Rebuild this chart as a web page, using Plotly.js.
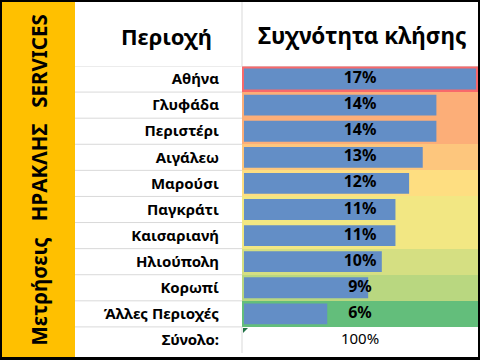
<!DOCTYPE html>
<html><head><meta charset="utf-8">
<script src="https://cdn.plot.ly/plotly-3.0.1.min.js"></script>
<style>
html,body{margin:0;padding:0;background:#000;width:480px;height:360px;overflow:hidden}
#chart{position:absolute;left:2px;top:2px;width:476px;height:355px;background:#fff}
</style>
</head><body><div id="chart"></div>
<script>
const regions = ['Αθήνα','Γλυφάδα','Περιστέρι','Αιγάλεω','Μαρούσι','Παγκράτι','Καισαριανή','Ηλιούπολη','Κορωπί','Άλλες Περιοχές'];
const callShare = [17.0, 14.1, 14.1, 13.1, 12.1, 11.1, 11.1, 10.1, 9.1, 6.1];
const totalLabel = 'Σύνολο:';
const totalValue = 100;
const headerRegion = 'Περιοχή';
const headerShare = 'Συχνότητα κλήσης';
const sideTitle = 'Μετρήσεις\u00A0\u00A0\u00A0ΗΡΑΚΛΗΣ\u00A0\u00A0\u00A0SERVICES';

const cats = regions.concat([totalLabel]);
const FONT = 'Noto Sans, sans-serif';
const W = 476, H = 355;
const px = v => v / W;
const py = v => 1 - v / H;
const plotLeft = px(240);
const grid = '#D9D9D9';

const heat = {
  type: 'heatmap', x: ['c'], y: cats,
  z: cats.map((c, i) => [i < callShare.length ? callShare[i] : null]),
  colorscale: [[0, '#63BE7B'], [0.5, '#FFEB84'], [1, '#F8696B']],
  showscale: false, hoverinfo: 'skip', xaxis: 'x', yaxis: 'y'
};
const bars = {
  type: 'bar', orientation: 'h', y: regions, x: callShare, width: 0.8,
  marker: {color: '#638EC6', line: {width: 0}}, xaxis: 'x2', yaxis: 'y', hoverinfo: 'skip'
};
const labels = {
  type: 'scatter', mode: 'text', y: regions, x: regions.map(() => 0),
  text: callShare.map(v => Math.round(v) + '%'),
  textfont: {family: FONT, size: 16, color: '#000', weight: 700},
  xaxis: 'x3', yaxis: 'y', cliponaxis: false, hoverinfo: 'skip'
};
const totalText = {
  type: 'scatter', mode: 'text', y: [totalLabel], x: [0], text: [totalValue + '%'],
  textfont: {family: FONT, size: 15, color: '#000'},
  xaxis: 'x3', yaxis: 'y', cliponaxis: false, hoverinfo: 'skip'
};

const shapes = [
  {type: 'rect', xref: 'paper', yref: 'paper', x0: 0, x1: px(73), y0: 0, y1: 1,
   fillcolor: '#FFC000', line: {width: 0}, layer: 'below'}
];
for (let i = 0; i < cats.length; i++) {
  shapes.push({type: 'line', xref: 'paper', yref: 'y', x0: px(73), x1: i === 0 ? 1 : plotLeft,
    y0: i - 0.5, y1: i - 0.5, line: {color: grid, width: 1}, layer: 'above'});
}
shapes.push({type: 'line', xref: 'paper', yref: 'paper', x0: plotLeft, x1: plotLeft,
  y0: py(64), y1: 1, line: {color: grid, width: 1}});
shapes.push({type: 'line', xref: 'paper', yref: 'y', x0: plotLeft, x1: plotLeft,
  y0: cats.length - 1.5, y1: cats.length - 0.5, line: {color: grid, width: 1}});
shapes.push({type: 'path', xref: 'paper', yref: 'paper',
  path: `M ${px(241)},${py(326)} L ${px(246)},${py(326)} L ${px(241)},${py(331)} Z`,
  fillcolor: '#217346', line: {width: 0}});

const annotations = [
  {text: headerRegion, xref: 'paper', yref: 'paper', x: px(164.5), y: py(34),
   showarrow: false, xanchor: 'center', yanchor: 'middle',
   font: {family: FONT, size: 22, color: '#000', weight: 700}},
  {text: headerShare, xref: 'paper', yref: 'paper', x: px(360), y: py(34),
   showarrow: false, xanchor: 'center', yanchor: 'middle',
   font: {family: FONT, size: 22.5, color: '#000', weight: 700}},
  {text: sideTitle, xref: 'paper', yref: 'paper', x: px(36.5), y: py(178),
   showarrow: false, xanchor: 'center', yanchor: 'middle', textangle: -90,
   font: {family: FONT, size: 20.5, color: '#000', weight: 700}}
];

const layout = {
  width: W, height: H, margin: {l: 0, r: 0, t: 0, b: 0, pad: 0},
  paper_bgcolor: '#fff', plot_bgcolor: 'rgba(0,0,0,0)', showlegend: false,
  xaxis: {type: 'category', domain: [plotLeft, 1], range: [-0.5, 0.5], visible: false, fixedrange: true},
  xaxis2: {overlaying: 'x', range: [-0.147, 17.15], visible: false},
  xaxis3: {overlaying: 'x', range: [-1, 1], visible: false},
  yaxis: {type: 'category', domain: [py(351), py(64)], categoryorder: 'array', categoryarray: cats,
    range: [cats.length - 0.5, -0.5], showgrid: false, zeroline: false, showline: false, ticks: '',
    ticklabelstandoff: 22, tickfont: {family: FONT, size: 15, color: '#000', weight: 700}},
  shapes: shapes, annotations: annotations, font: {family: FONT}
};

Plotly.newPlot('chart', [heat, bars, labels, totalText], layout, {displayModeBar: false, staticPlot: true});
</script>
</body></html>
